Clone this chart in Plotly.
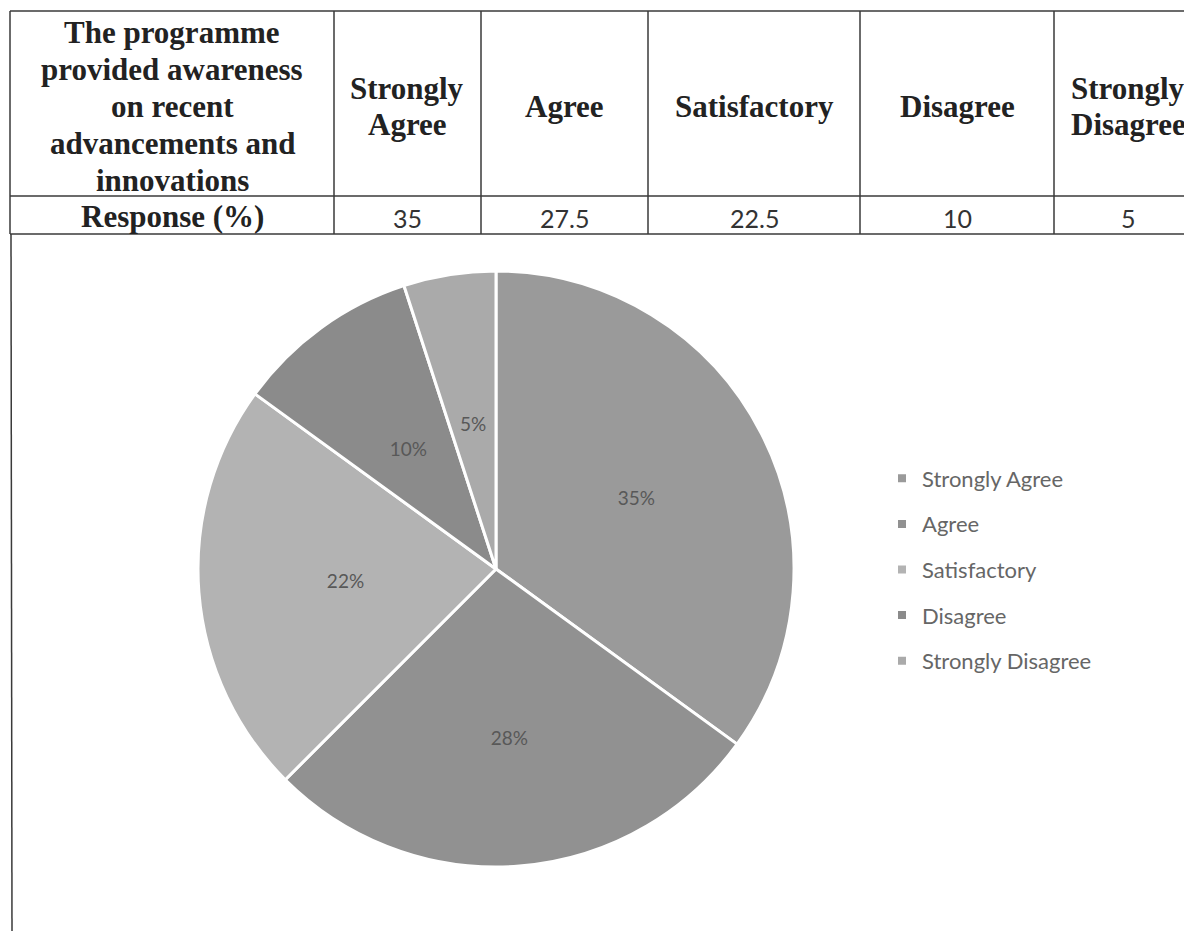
import plotly.graph_objects as go

# ---- data ----
categories = ["Strongly Agree", "Agree", "Satisfactory", "Disagree", "Strongly Disagree"]
responses = [35, 27.5, 22.5, 10, 5]
response_text = ["35", "27.5", "22.5", "10", "5"]
pie_labels = ["35%", "28%", "22%", "10%", "5%"]
header_lines = ["The programme", "provided awareness", "on recent", "advancements and", "innovations"]
header_cells = [["Strongly", "Agree"], ["Agree"], ["Satisfactory"], ["Disagree"], ["Strongly", "Disagree"]]
row_label = "Response (%)"
colors = ["#9a9a9a", "#919191", "#b3b3b3", "#8b8b8b", "#aaaaaa"]

# page has an 8px body margin; work in screen pixels and convert
OFF = 8
W, H = 1192 - OFF, 931 - OFF


def px(x):
    return (x - OFF) / W


def py(y):
    return 1 - (y - OFF) / H


CX, CY, R = 496, 569, 298          # pie centre / radius (screen px)
# helper (transparent) pie radii used only to place some slice labels
label_radius = {2: 249, 3: 195, 4: 170}

label_font = dict(family="Lato", size=19, color="#585858")

fig = go.Figure()


def pie_domain(r):
    return dict(x=[px(CX - r), px(CX + r)], y=[py(CY + r), py(CY - r)])


# main pie (labels for the two biggest slices drawn inside)
fig.add_trace(go.Pie(
    labels=categories,
    values=responses,
    text=pie_labels,
    textinfo="text",
    textposition=["inside" if i not in label_radius else "none" for i in range(len(categories))],
    insidetextorientation="horizontal",
    textfont=label_font,
    marker=dict(colors=colors, line=dict(color="white", width=3)),
    sort=False,
    direction="clockwise",
    rotation=0,
    showlegend=False,
    domain=pie_domain(R),
    hoverinfo="label+value",
))

# transparent helper pies carrying the remaining labels
for idx, r in label_radius.items():
    fig.add_trace(go.Pie(
        labels=categories,
        values=responses,
        text=pie_labels,
        textinfo="text",
        textposition=["inside" if i == idx else "none" for i in range(len(categories))],
        insidetextorientation="horizontal",
        textfont=label_font,
        marker=dict(colors=["rgba(0,0,0,0)"] * len(categories), line=dict(width=0)),
        sort=False,
        direction="clockwise",
        rotation=0,
        showlegend=False,
        hoverinfo="skip",
        domain=pie_domain(r),
    ))

# legend entries (one per category) so spacing can be controlled
for cat, col in zip(categories, colors):
    fig.add_trace(go.Scatter(
        x=[None], y=[None], mode="markers", name=cat, legendgroup=cat,
        marker=dict(symbol="square", size=8, color=col),
        hoverinfo="skip",
    ))

# ---- table lines ----
line_col = "#3a3a3a"
shapes = []
col_edges = [10, 334, 481, 648, 860, 1054, 1202]
top, mid, bot = 11, 196, 234
for yv in (top, mid, bot):
    shapes.append(dict(type="line", xref="paper", yref="paper",
                       x0=px(10), x1=px(1202), y0=py(yv), y1=py(yv),
                       line=dict(color=line_col, width=1.5)))
for xv in col_edges:
    shapes.append(dict(type="line", xref="paper", yref="paper",
                       x0=px(xv), x1=px(xv), y0=py(top), y1=py(bot),
                       line=dict(color=line_col, width=1.5)))
# lower box left border
shapes.append(dict(type="line", xref="paper", yref="paper",
                   x0=px(11), x1=px(12), y0=py(bot), y1=py(931),
                   line=dict(color=line_col, width=1.5)))

# ---- table text ----
annotations = []
serif = dict(family="Liberation Serif", size=31, color="#222222", weight="bold")
line_gap = 36.8
first_center = (col_edges[0] + col_edges[1]) / 2
y0 = 33
for i, t in enumerate(header_lines):
    annotations.append(dict(text=t, x=px(first_center), y=py(y0 + i * line_gap),
                            xref="paper", yref="paper", showarrow=False,
                            xanchor="center", yanchor="middle", font=serif))
annotations.append(dict(text=row_label, x=px(first_center), y=py(216),
                        xref="paper", yref="paper", showarrow=False,
                        xanchor="center", yanchor="middle", font=serif))

for j, cell in enumerate(header_cells):
    cx = (col_edges[j + 1] + col_edges[j + 2]) / 2
    n = len(cell)
    yc = 106.5 - (n - 1) * line_gap / 2
    for k, t in enumerate(cell):
        annotations.append(dict(text=t, x=px(cx), y=py(yc + k * line_gap),
                                xref="paper", yref="paper", showarrow=False,
                                xanchor="center", yanchor="middle", font=serif))
    annotations.append(dict(text=response_text[j], x=px(cx), y=py(217.5),
                            xref="paper", yref="paper", showarrow=False,
                            xanchor="center", yanchor="middle",
                            font=dict(family="Lato", size=25, color="#333333")))

fig.update_layout(
    width=W, height=H,
    margin=dict(l=0, r=0, t=0, b=0),
    paper_bgcolor="white",
    plot_bgcolor="white",
    xaxis=dict(visible=False),
    yaxis=dict(visible=False),
    shapes=shapes,
    annotations=annotations,
    legend=dict(
        x=px(882), y=py(457.5), xanchor="left", yanchor="top",
        font=dict(family="Lato", size=22, color="#666666"),
        traceorder="grouped", tracegroupgap=14,
        bgcolor="rgba(0,0,0,0)",
    ),
    showlegend=True,
)

fig.write_html("out.html")
